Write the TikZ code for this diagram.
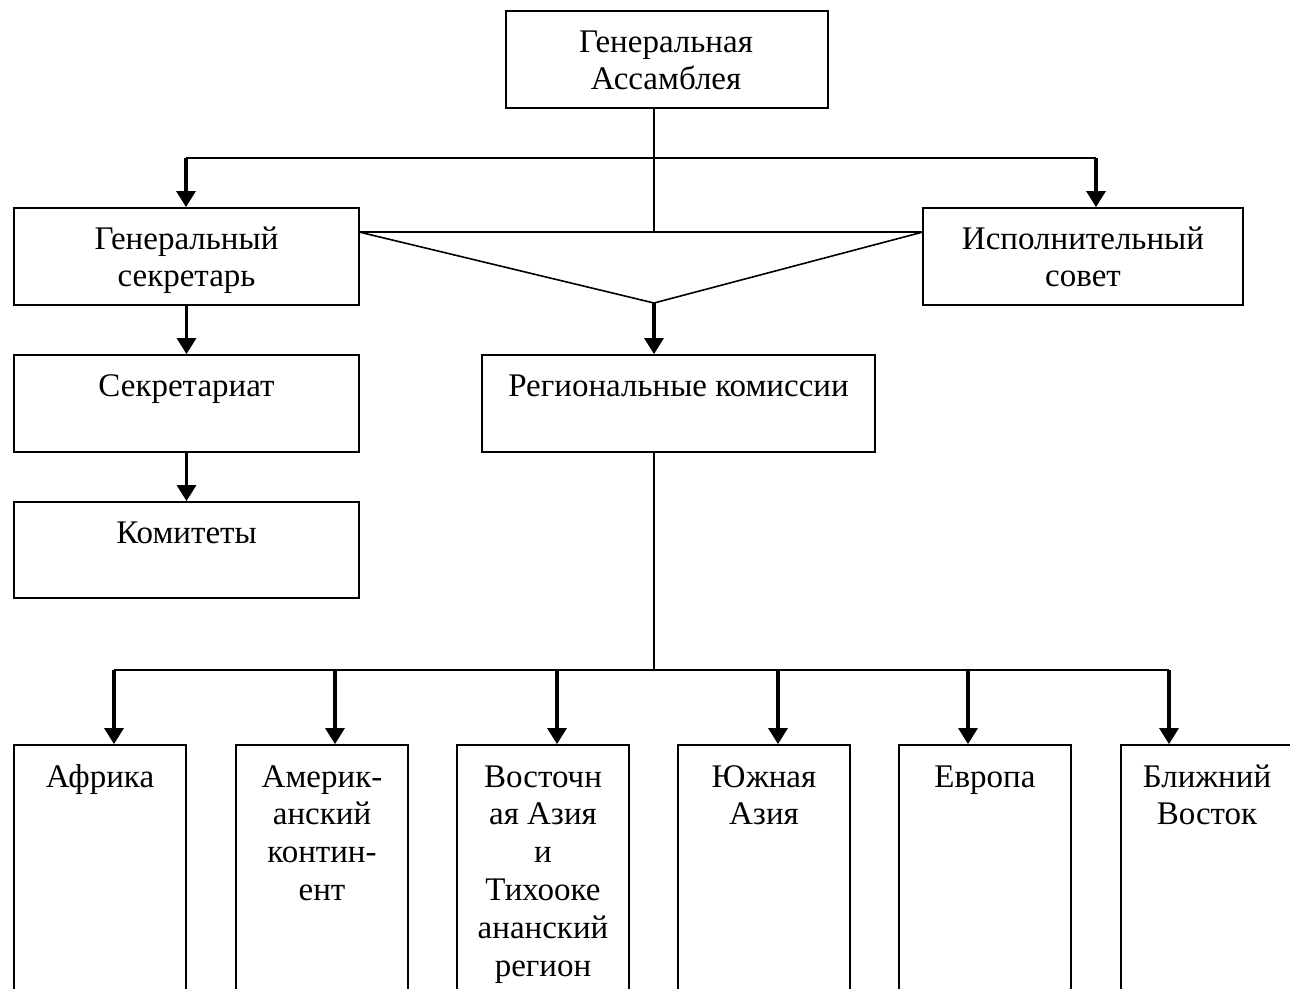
\documentclass[tikz,border=0pt]{standalone}
\usepackage{fontspec}
\setmainfont{Liberation Serif}
\usetikzlibrary{arrows.meta,calc}
\begin{document}
\begin{tikzpicture}[x=1pt,y=-1pt,
  boxn/.style={draw,line width=1.8pt,inner sep=0pt,minimum width=#1,minimum height=97pt},
  tallbox/.style={draw,line width=1.8pt,inner sep=0pt,minimum width=172pt,minimum height=265pt},
  txt/.style={anchor=north,align=center,inner sep=0pt,font=\fontsize{33}{37.8}\selectfont},
  conn/.style={line width=1.6pt},
  arr/.style={line width=3.2pt,-{Triangle[width=19pt 0 0,length=16pt 0 0]}}]
\useasboundingbox (0,0) rectangle (1290,988);
\clip (0,0) rectangle (1290,988);
\fill[white] (0,0) rectangle (1290,988);
% boxes
\node[boxn=322pt] (ga) at (667,59.5) {};
\node[boxn=345pt] (gs) at (186.5,256.5) {};
\node[boxn=320pt] (is) at (1083,256.5) {};
\node[boxn=345pt] (sec) at (186.5,403.5) {};
\node[boxn=345pt,minimum height=96pt] (kom) at (186.5,550) {};
\node[boxn=393pt] (rk) at (678.5,403.5) {};
\node[tallbox] (afr) at (100,877.5) {};
\node[tallbox] (ame) at (322,877.5) {};
\node[tallbox] (vas) at (543,877.5) {};
\node[tallbox] (yua) at (764,877.5) {};
\node[tallbox] (eur) at (985,877.5) {};
\node[tallbox] (bv) at (1207,877.5) {};
% texts (first baseline = box top + 41)
\node[txt] (gaT) at (666,25.5) {\strut Генеральная\\Ассамблея};
\node[txt] (gsT) at (186.5,222.5) {\strut Генеральный\\секретарь};
\node[txt] (isT) at (1083,222.5) {\strut Исполнительный\\совет};
\node[txt] (secT) at (186.5,369.5) {\strut Секретариат};
\node[txt] (komT) at (186.5,516.5) {\strut Комитеты};
\node[txt] (rkT) at (678.5,369.5) {\strut Региональные комиссии};
\node[txt] (afrT) at (100,760.5) {\strut Африка};
\node[txt] (ameT) at (322,760.5) {\strut Америк-\\анский\\контин-\\ент};
\node[txt] (vasT) at (543,760.5) {\strut Восточн\\ая Азия\\и\\Тихооке\\ананский\\регион};
\node[txt] (yuaT) at (764,760.5) {\strut Южная\\Азия};
\node[txt] (eurT) at (985,760.5) {\strut Европа};
\node[txt] (bvT) at (1207,760.5) {\strut Ближний\\Восток};
% connector points
\coordinate (b1L) at (186,158);
\coordinate (b1R) at (1096,158);
\coordinate (tTop) at (654,232);
\coordinate (tL) at (359,232);
\coordinate (tR) at (923,232);
\coordinate (tA) at (654,303);
\coordinate (b2M) at (654,670);
\coordinate (a1) at (114,670);
\coordinate (a2) at (335,670);
\coordinate (a3) at (557,670);
\coordinate (a4) at (778,670);
\coordinate (a5) at (968,670);
\coordinate (a6) at (1169,670);
% connectors
\draw[conn] (ga.south -| tTop) -- (tTop);
\draw[conn] (b1L) -- (b1R);
\draw[arr] (b1L) -- (gs.north -| b1L);
\draw[arr] (b1R) -- (is.north -| b1R);
\draw[conn,line join=round] (tL) -- (tR) -- (tA) -- cycle;
\draw[arr] (tA) -- (rk.north -| tA);
\draw[arr] (gs.south) -- (sec.north);
\draw[arr] (sec.south) -- (kom.north);
\draw[conn] (rk.south -| b2M) -- (b2M);
\draw[conn] (a1) -- (a6);
\draw[arr] (a1) -- (afr.north -| a1);
\draw[arr] (a2) -- (ame.north -| a2);
\draw[arr] (a3) -- (vas.north -| a3);
\draw[arr] (a4) -- (yua.north -| a4);
\draw[arr] (a5) -- (eur.north -| a5);
\draw[arr] (a6) -- (bv.north -| a6);
\end{tikzpicture}
\end{document}
